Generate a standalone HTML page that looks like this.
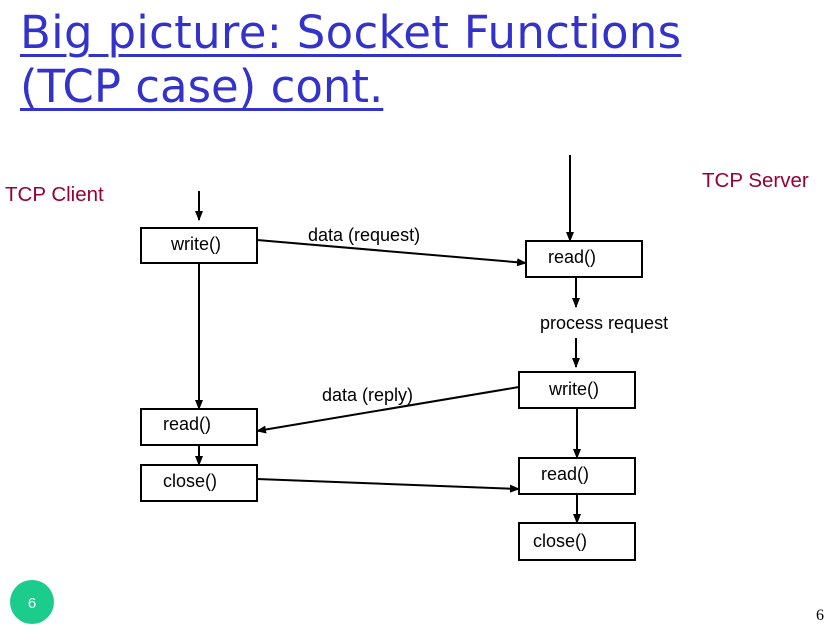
<!DOCTYPE html>
<html><head><style>
body{margin:0;width:840px;height:640px;background:#fff;position:relative;overflow:hidden;font-family:"Liberation Sans",sans-serif}
.t{position:absolute;left:20px;color:#3333cc;font-family:"Comic Sans MS","DejaVu Sans",sans-serif;font-size:45px;line-height:54px;white-space:nowrap;text-decoration:underline;text-decoration-thickness:3px;text-underline-offset:6px}
.l{position:absolute;font-size:18px;color:#000;white-space:nowrap}
.r{color:#990033}
</style></head><body>
<div class="t" style="top:6px;letter-spacing:0.3px">Big picture: Socket Functions</div>
<div class="t" style="top:60px">(TCP case) cont.</div>
<svg width="840" height="640" style="position:absolute;left:0;top:0">
<defs><marker id="a" markerWidth="10" markerHeight="8" refX="9" refY="4" orient="auto" markerUnits="userSpaceOnUse"><path d="M0,0L10,4L0,8z" fill="#000"/></marker></defs>
<g fill="#fff" stroke="#000" stroke-width="2">
<rect x="141" y="228" width="116" height="35"/>
<rect x="526" y="241" width="116" height="36"/>
<rect x="519" y="372" width="116" height="36"/>
<rect x="141" y="409" width="116" height="36"/>
<rect x="141" y="465" width="116" height="36"/>
<rect x="519" y="458" width="116" height="36"/>
<rect x="519" y="523" width="116" height="37"/>
</g>
<g stroke="#000" stroke-width="2" marker-end="url(#a)">
<line x1="199" y1="191" x2="199" y2="220"/>
<line x1="570" y1="155" x2="570" y2="241"/>
<line x1="257" y1="240" x2="526" y2="263"/>
<line x1="199" y1="263" x2="199" y2="409"/>
<line x1="576" y1="277" x2="576" y2="307"/>
<line x1="576" y1="338" x2="576" y2="367"/>
<line x1="519" y1="387" x2="257" y2="431"/>
<line x1="199" y1="445" x2="199" y2="465"/>
<line x1="257" y1="479" x2="519" y2="489"/>
<line x1="577" y1="408" x2="577" y2="458"/>
<line x1="577" y1="494" x2="577" y2="523"/>
</g>
<circle cx="32" cy="602" r="22" fill="#1ccc8c"/>
<text x="32" y="608" font-family="Liberation Sans" font-size="15" fill="#fff" text-anchor="middle">6</text>
<text x="816" y="620" font-family="Liberation Serif" font-size="16" fill="#000">6</text>
</svg>
<div class="l r" style="left:5px;top:183px;font-size:20.5px">TCP Client</div>
<div class="l r" style="left:702px;top:169px;font-size:20.5px">TCP Server</div>
<div class="l" style="left:171px;top:234px">write()</div>
<div class="l" style="left:308px;top:225px">data (request)</div>
<div class="l" style="left:548px;top:247px">read()</div>
<div class="l" style="left:540px;top:313px">process request</div>
<div class="l" style="left:549px;top:379px">write()</div>
<div class="l" style="left:322px;top:385px">data (reply)</div>
<div class="l" style="left:163px;top:414px">read()</div>
<div class="l" style="left:163px;top:471px">close()</div>
<div class="l" style="left:541px;top:464px">read()</div>
<div class="l" style="left:533px;top:531px">close()</div>
</body></html>
